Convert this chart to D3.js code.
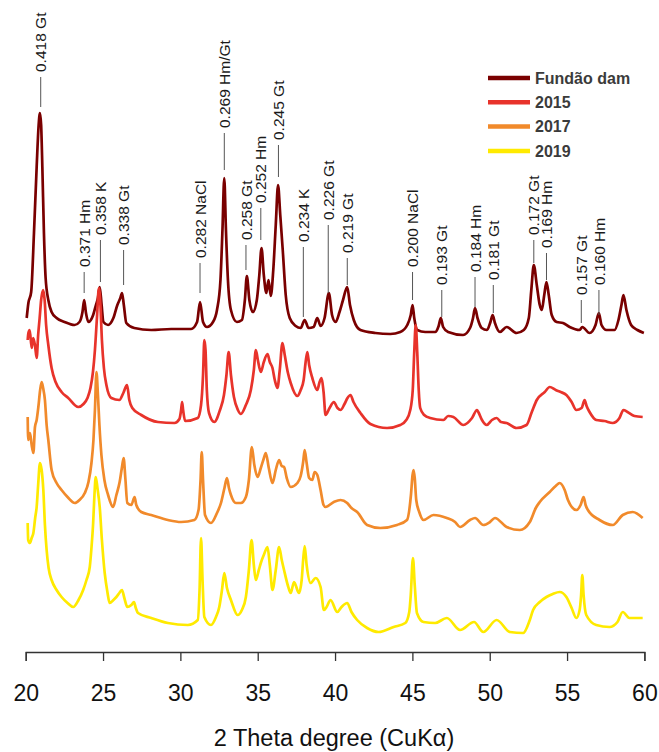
<!DOCTYPE html>
<html>
<head>
<meta charset="utf-8">
<script src="https://cdn.jsdelivr.net/npm/d3@7"></script>
<style>
  html, body { margin: 0; padding: 0; background: #fff; }
  svg { display: block; }
</style>
</head>
<body>
<svg id="chart" width="659" height="752"></svg>
<script>
// ---------- DATA (2θ in degrees, intensity in arbitrary units incl. stacking offset) ----------
const seriesNames = ["Fundão dam", "2015", "2017", "2019"];
const seriesColors = ["#7a0000", "#e8332b", "#f18a2b", "#ffea00"];

const fundaoTheta = [20.064,20.174,20.354,20.535,20.709,20.837,20.921,20.998,21.076,21.179,21.288,21.462,21.675,21.997,22.512,23.156,23.478,23.671,23.781,23.897,24.058,24.361,24.541,24.670,24.786,24.908,25.024,25.327,25.668,25.926,26.119,26.228,26.344,26.505,27.020,28.116,29.404,30.692,31.079,31.272,31.465,31.723,32.109,32.367,32.592,32.721,32.837,32.946,33.075,33.268,33.655,33.977,34.170,34.299,34.460,34.685,34.943,35.104,35.246,35.394,35.555,35.697,35.845,36.006,36.167,36.315,36.457,36.618,36.811,37.069,37.455,37.776,38.034,38.291,38.613,38.852,39.065,39.322,39.600,39.806,40.032,40.289,40.515,40.785,40.966,41.211,41.642,42.608,43.574,44.218,44.669,44.895,45.011,45.120,45.313,45.829,46.473,46.698,46.840,46.988,47.310,48.276,48.727,48.920,49.049,49.210,49.481,49.822,50.047,50.189,50.337,50.659,51.091,51.735,52.205,52.527,52.688,52.849,53.042,53.235,53.364,53.525,53.667,53.815,54.008,54.330,54.736,55.167,55.811,55.985,56.455,56.841,57.054,57.228,57.550,58.065,58.323,58.516,58.645,58.838,59.141,59.547,59.966];
const fundaoValue = [334,349,360,419,485,527,539,527,485,419,374,352,340,334,330,327,330,340,352,339,330,337,347,354,365,347,330,327,334,347,354,359,347,329,324,322,323,323,330,350,330,325,330,342,372,422,474,422,372,342,330,332,352,376,352,340,352,377,404,377,359,372,356,382,427,467,437,402,357,334,326,324,332,324,325,334,326,334,359,337,330,340,352,365,347,332,322,319,318,320,327,337,347,334,322,320,320,326,334,325,320,317,324,334,344,334,324,322,330,337,329,320,325,319,322,334,362,387,367,347,342,357,370,357,337,330,329,325,322,325,319,327,339,327,322,322,332,347,357,342,327,322,319];

const y2015Theta = [20.129,20.174,20.258,20.386,20.483,20.599,20.709,20.805,20.902,20.998,21.127,21.224,21.320,21.462,21.675,21.932,22.319,22.750,23.394,23.736,23.993,24.187,24.348,24.476,24.605,24.734,24.831,24.927,25.056,25.217,25.539,26.055,26.312,26.551,26.699,26.892,27.472,28.547,29.617,29.939,30.048,30.112,30.177,30.306,31.124,31.336,31.465,31.549,31.626,31.710,31.852,32.193,32.560,32.818,32.979,33.121,33.269,33.462,33.720,33.913,34.235,34.557,34.750,34.879,35.008,35.201,35.394,35.633,35.781,35.955,36.103,36.277,36.425,36.599,36.747,36.940,37.133,37.565,37.777,37.970,38.099,38.209,38.325,38.531,38.853,39.001,39.130,39.258,39.387,39.645,39.922,40.160,40.354,40.611,40.804,40.998,41.191,41.642,42.286,43.361,44.218,44.604,44.862,45.023,45.120,45.216,45.313,45.410,45.506,45.764,46.150,47.007,47.310,47.651,48.295,48.856,49.178,49.262,49.500,49.803,50.144,50.447,50.724,51.091,51.735,52.379,52.720,53.042,53.557,53.879,54.266,54.588,54.955,55.296,55.599,55.940,56.134,56.262,56.455,56.887,57.421,57.956,58.388,58.645,58.903,59.354,59.889];
const y2015Value = [312,319,322,304,314,307,294,317,334,352,362,352,327,307,284,270,260,254,245,248,254,264,280,302,334,364,347,312,284,267,254,252,259,267,252,244,237,230,229,233,242,250,242,231,234,247,277,312,302,262,239,230,242,257,277,300,277,255,242,238,247,262,282,302,292,280,290,298,290,284,272,264,282,309,297,280,269,256,262,272,290,300,287,274,262,270,274,260,237,244,250,244,242,248,254,257,250,239,228,224,227,232,242,262,300,327,300,262,244,237,234,232,236,235,227,234,242,240,232,227,232,234,230,229,224,227,240,252,260,265,262,260,257,250,242,244,252,246,240,232,231,229,234,242,240,236,235];

const y2017Theta = [20.129,20.161,20.277,20.386,20.496,20.599,20.709,20.818,20.934,21.031,21.127,21.243,21.353,21.462,21.675,21.997,22.319,22.705,23.175,23.478,23.820,24.058,24.251,24.380,24.476,24.573,24.670,24.766,24.895,25.088,25.327,25.649,25.862,26.074,26.216,26.332,26.441,26.570,26.827,27.040,27.150,27.472,28.116,29.191,30.048,30.905,31.175,31.304,31.381,31.465,31.594,31.980,32.367,32.624,32.850,33.011,33.140,33.269,33.591,33.913,34.235,34.428,34.621,34.782,34.988,35.201,35.362,35.523,35.716,35.955,36.167,36.380,36.554,36.702,36.876,37.133,37.565,37.777,37.938,38.035,38.163,38.325,38.531,38.679,38.853,39.065,39.258,39.387,39.922,40.354,40.785,41.062,41.429,42.073,42.930,44.006,44.650,44.907,45.011,45.075,45.152,45.249,45.442,45.719,46.363,47.226,47.761,48.083,48.727,49.049,49.584,50.015,50.337,51.091,51.947,52.591,52.978,53.235,53.879,54.266,54.524,54.846,55.058,55.599,55.876,56.069,56.198,56.346,57.100,57.956,58.600,59.244,59.889];
const y2017Value = [235,212,219,207,199,225,232,245,262,270,264,252,227,212,182,169,162,155,149,152,159,170,189,212,242,280,257,227,197,172,157,145,157,170,184,194,174,149,147,155,147,140,137,132,130,132,142,172,200,172,137,129,139,149,164,174,164,157,149,149,155,172,205,187,175,184,192,199,184,169,182,192,186,185,174,165,169,176,190,202,189,174,172,180,177,162,147,145,150,152,149,144,140,127,124,127,132,157,177,182,174,152,140,132,137,134,130,125,132,134,127,130,134,125,122,130,144,150,160,166,169,162,152,142,147,155,147,142,132,127,137,140,134];

const y2019Theta = [20.129,20.161,20.277,20.386,20.496,20.612,20.709,20.805,20.921,21.031,21.140,21.243,21.353,21.481,21.675,21.997,22.319,22.705,23.072,23.414,23.716,23.929,24.142,24.251,24.361,24.444,24.528,24.638,24.786,24.927,25.108,25.282,25.430,25.668,25.862,26.055,26.228,26.377,26.570,26.827,27.001,27.117,27.259,28.116,29.191,30.480,31.124,31.240,31.336,31.433,31.549,31.980,32.302,32.515,32.689,32.837,33.011,33.269,33.700,33.977,34.235,34.428,34.602,34.750,34.879,35.072,35.201,35.394,35.633,35.781,35.955,36.167,36.380,36.554,36.702,36.940,37.133,37.346,37.668,37.842,37.938,38.035,38.163,38.421,38.743,39.065,39.278,39.452,39.709,40.141,40.418,40.785,41.062,41.429,42.073,42.820,43.786,44.540,44.798,44.895,45.036,45.152,45.294,45.719,46.473,47.226,48.083,48.984,49.584,50.447,51.304,52.160,52.591,52.804,53.235,53.667,54.073,54.524,54.955,55.296,55.599,55.812,55.908,55.985,56.069,56.241,56.887,57.744,58.259,58.600,59.030,59.889];
const y2019Value = [129,112,109,114,119,134,145,167,189,182,162,127,102,84,72,62,55,49,45,52,62,72,85,104,129,157,175,164,145,112,79,60,49,52,55,59,62,54,45,47,50,44,39,34,29,27,32,62,114,72,35,27,35,45,62,79,64,52,37,42,55,82,112,87,72,82,89,97,105,87,62,82,105,92,82,67,59,70,59,72,92,106,87,69,74,65,42,45,52,40,45,49,40,32,24,20,25,29,40,57,94,67,39,30,29,34,22,30,20,32,20,19,32,42,50,55,58,60,55,44,34,42,57,77,57,37,27,25,30,40,34,34];

// peak annotations: d-spacing + phase, 2θ, intensity where the label text starts, intensity where the leader ends
const peakLabels = ["0.418 Gt","0.371 Hm","0.358 K","0.338 Gt","0.282 NaCl","0.269 Hm/Gt","0.258 Gt","0.252 Hm","0.245 Gt","0.234 K","0.226 Gt","0.219 Gt","0.200 NaCl","0.193 Gt","0.184 Hm","0.181 Gt","0.172 Gt","0.169 Hm","0.157 Gt","0.160 Hm"];
const peakTheta = [20.97,23.78,24.83,26.33,31.27,32.84,34.24,35.20,36.34,37.95,39.56,40.79,45.01,46.90,49.05,50.23,52.85,53.67,55.92,57.06];
const peakTextLevel = [580,385,417,407,394,524,412,449,512,410,432,399,385,367,380,372,417,404,357,367];
const peakLineEnd = [545,359,370,367,359,482,382,412,475,335,359,367,352,335,345,339,389,372,329,337];

const xTicks = [20,25,30,35,40,45,50,55,60];
const xTitle = "2 Theta degree (CuK\u03b1)";

// ---------- CHART ----------
const svg = d3.select("#chart");
const x = d3.scaleLinear().domain([20, 60]).range([25.7, 644.4]);
const y = d3.scaleLinear().domain([0, 652]).range([652, 0]);

const series = [
  {name: seriesNames[0], color: seriesColors[0], theta: fundaoTheta, val: fundaoValue},
  {name: seriesNames[1], color: seriesColors[1], theta: y2015Theta, val: y2015Value},
  {name: seriesNames[2], color: seriesColors[2], theta: y2017Theta, val: y2017Value},
  {name: seriesNames[3], color: seriesColors[3], theta: y2019Theta, val: y2019Value}
];

const line = d3.line().x(d => x(d[0])).y(d => y(d[1])).curve(d3.curveMonotoneX);

svg.append("g").selectAll("path")
  .data(series)
  .join("path")
  .attr("d", s => line(s.theta.map((t, i) => [t, s.val[i]])))
  .attr("fill", "none")
  .attr("stroke", s => s.color)
  .attr("stroke-width", 2.7)
  .attr("stroke-linejoin", "round");

// annotations
const ann = svg.append("g");
peakLabels.forEach((lab, i) => {
  const px = x(peakTheta[i]);
  const ty = y(peakTextLevel[i]);
  ann.append("line")
    .attr("x1", px).attr("x2", px)
    .attr("y1", ty + 5).attr("y2", y(peakLineEnd[i]))
    .attr("stroke", "#555").attr("stroke-width", 1);
  ann.append("text")
    .attr("transform", `translate(${px},${ty}) rotate(-90)`)
    .attr("dy", "0.36em")
    .attr("font-family", "'Liberation Sans', Arial, sans-serif")
    .attr("font-size", 15.5)
    .attr("fill", "#1a1a1a")
    .text(lab);
});

// x axis
const axis = d3.axisBottom(x).tickValues(xTicks).tickSize(9).tickSizeOuter(9).tickPadding(6);
const gx = svg.append("g").attr("transform", "translate(0,652)").call(axis);
gx.select(".domain").attr("stroke", "#333").attr("stroke-width", 1.3);
gx.selectAll(".tick line").attr("stroke", "#333").attr("stroke-width", 1.3);
gx.selectAll(".tick text")
  .attr("font-family", "'Liberation Sans', Arial, sans-serif")
  .attr("font-size", 23)
  .attr("fill", "#111")
  .attr("y", 49).attr("dy", 0);

svg.append("text")
  .attr("x", 334).attr("y", 746)
  .attr("text-anchor", "middle")
  .attr("font-family", "'Liberation Sans', Arial, sans-serif")
  .attr("font-size", 23.5)
  .attr("fill", "#111")
  .text(xTitle);

// legend
const leg = svg.append("g").attr("transform", "translate(488,78)");
series.forEach((s, i) => {
  const g = leg.append("g").attr("transform", `translate(0,${i * 24.3})`);
  g.append("line").attr("x1", 0).attr("x2", 42).attr("y1", 0).attr("y2", 0)
    .attr("stroke", s.color).attr("stroke-width", 4.5);
  g.append("text").attr("x", 47).attr("y", 0).attr("dy", "0.36em")
    .attr("font-family", "'Liberation Sans', Arial, sans-serif")
    .attr("font-weight", "bold").attr("font-size", 16)
    .attr("fill", "#3b3b3b")
    .text(s.name);
});
</script>
</body>
</html>
